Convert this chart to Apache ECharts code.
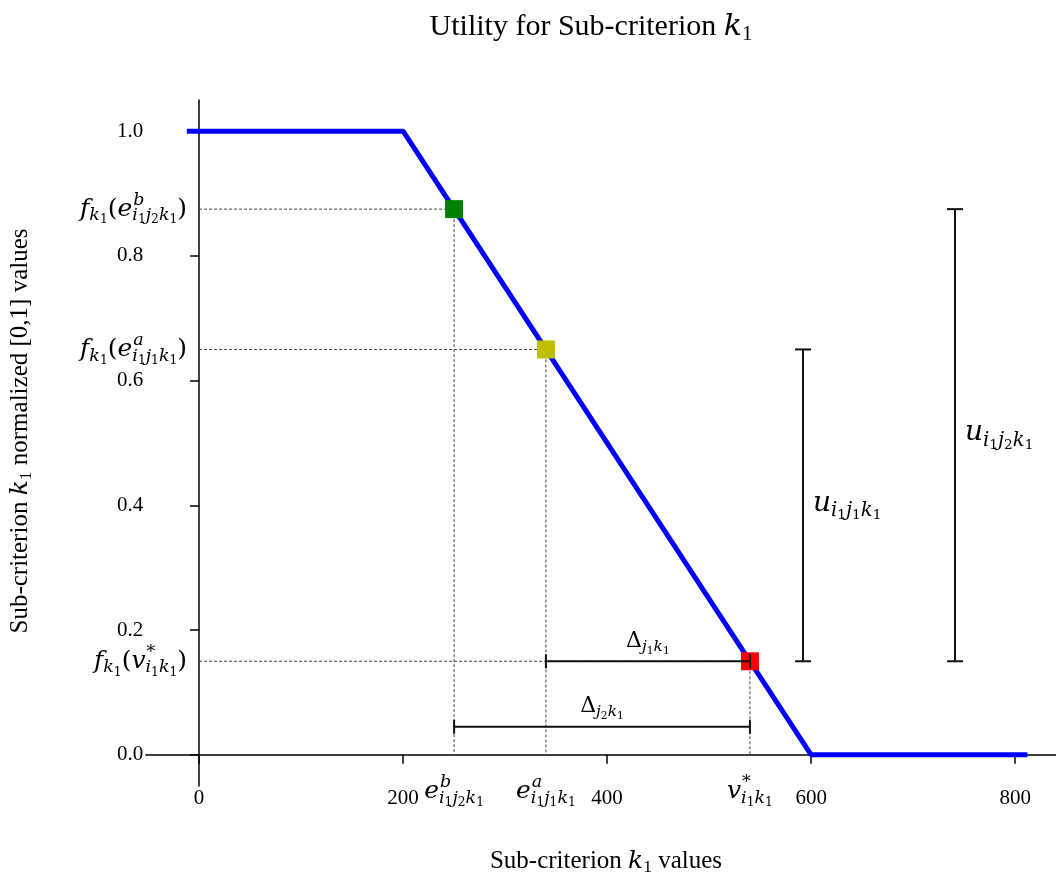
<!DOCTYPE html>
<html lang="en">
<head>
  <meta charset="utf-8">
  <title>Utility for Sub-criterion k1</title>
  <script src="https://cdn.jsdelivr.net/npm/echarts@6/dist/echarts.min.js"></script>
  <style>
    * { margin: 0; padding: 0; }
    html, body, #chart { width: 100%; height: 100%; overflow: hidden; background: #fff; }
  </style>
</head>
<body>
<div id="chart"></div>
<script>
// utility curve (piecewise linear)
const curveX = [-12, 200, 600, 812];
const curveY = [1.0, 1.0, 0.0, 0.0];
// marked alternatives: e^b, e^a, v*
const markX = [250, 340, 540];
const markY = [0.875, 0.65, 0.15];
const xTickValues = [0, 200, 400, 600, 800];
const yTickValues = [0, 0.2, 0.4, 0.6, 0.8, 1.0];
// delta brackets: [from x, to x, at y]
const deltaSpans = [[340, 540, 0.15], [250, 540, 0.045]];
// u brackets: [at x, from y, to y]
const uSpans = [[592, 0.15, 0.65], [741, 0.15, 0.875]];

// math text as atoms: [text, italic, superscript, subscript]
const one = [['1']], two = [['2']];
const k1 = [['k', true, null, one]];
const i1j1k1 = [['i', true, null, one], ['j', true, null, one], ['k', true, null, one]];
const i1j2k1 = [['i', true, null, one], ['j', true, null, two], ['k', true, null, one]];
const i1k1 = [['i', true, null, one], ['k', true, null, one]];

const yMathLabels = [
  [['f', true, null, k1], ['('], ['e', true, [['b', true]], i1j2k1], [')']],
  [['f', true, null, k1], ['('], ['e', true, [['a', true]], i1j1k1], [')']],
  [['f', true, null, k1], ['('], ['v', true, [['*']], i1k1], [')']]
];
const xMathLabels = [
  [['e', true, [['b', true]], i1j2k1]],
  [['e', true, [['a', true]], i1j1k1]],
  [['v', true, [['*']], i1k1]]
];
const deltaLabels = [
  [['Δ', false, null, [['j', true, null, one], ['k', true, null, one]]]],
  [['Δ', false, null, [['j', true, null, two], ['k', true, null, one]]]]
];
const uLabels = [
  [['u', true, null, i1j1k1]],
  [['u', true, null, i1j2k1]]
];
const titleText = [['Utility for Sub-criterion '], ['k', true, null, one]];
const xNameText = [['Sub-criterion '], ['k', true, null, one], [' values']];
const yNameText = [['Sub-criterion '], ['k', true, null, one], [' normalized [0,1] values']];

const markColors = ['#008000', '#bfbf00', '#ff0000'];
const SERIF = '"Liberation Serif", "DejaVu Serif", serif';
const MATH = '"DejaVu Serif", serif';
const ctx2d = document.createElement('canvas').getContext('2d');

// lay atoms out left to right, sup/sub stacked; y is the middle line of the text
// allMath: every atom in the math face, otherwise only the italic ones
function place(atoms, size, x, y, out, allMath) {
  atoms.forEach(function (a) {
    const fs = a[1] ? 'italic' : 'normal';
    const fam = (allMath || a[1]) ? MATH : SERIF;
    ctx2d.font = fs + ' ' + size + 'px ' + fam;
    const w = ctx2d.measureText(a[0]).width;
    out.push({
      type: 'text', x: x, y: y, silent: true,
      style: {
        text: a[0], fontSize: size, fontStyle: fs, fontFamily: fam, fill: '#000',
        align: 'left', verticalAlign: 'middle', textAlign: 'left', textVerticalAlign: 'middle'
      }
    });
    x += w;
    if (a[2] || a[3]) {
      let hi = x, lo = x;
      if (a[2]) hi = place(a[2], size * 0.7, x + (a[1] ? size * 0.04 : 0), y - size * 0.36, out, allMath);
      if (a[3]) lo = place(a[3], size * 0.7, x, y + size * 0.26, out, allMath);
      x = Math.max(hi, lo);
    }
  });
  return x;
}

function mathGroup(atoms, size, x, y, anchor, allMath) {
  const children = [];
  const w = place(atoms, size, 0, 0, children, allMath !== false);
  const dx = anchor === 'right' ? -w : anchor === 'center' ? -w / 2 : 0;
  return { type: 'group', x: x + dx, y: y, children: children };
}

function ink() { return { stroke: '#111', lineWidth: 2 }; }
function dash() { return { stroke: '#444', lineWidth: 1, lineDash: [3, 2] }; }

const yNameGroup = mathGroup(yNameText, 25, 0, 0, 'center', false);

const option = {
  animation: false,
  backgroundColor: '#fff',
  grid: { left: 146, right: 0, top: 100, bottom: 90, containLabel: false, outerBoundsMode: 'none' },
  xAxis: {
    type: 'value', min: -52, max: 840,
    axisLine: { onZero: true, lineStyle: { color: '#000', width: 1.5 } },
    axisTick: { customValues: xTickValues, length: 9, lineStyle: { color: '#000', width: 1.5 } },
    // labels sit at the grid edge, not at the zero line
    axisLabel: { customValues: xTickValues, margin: 2, fontFamily: SERIF, fontSize: 21, color: '#000' },
    splitLine: { show: false }
  },
  yAxis: {
    type: 'value', min: -0.05, max: 1.05,
    axisLine: { show: true, onZero: true, lineStyle: { color: '#000', width: 1.5 } },
    axisTick: { show: true, customValues: yTickValues, length: 9, lineStyle: { color: '#000', width: 1.5 } },
    axisLabel: {
      customValues: yTickValues, margin: 16, align: 'center',
      formatter: function (v) { return v.toFixed(1); },
      fontFamily: SERIF, fontSize: 21, color: '#000'
    },
    splitLine: { show: false }
  },
  graphic: [
    mathGroup(titleText, 30, 591, 27, 'center', false),
    mathGroup(xNameText, 25, 606, 861, 'center', false),
    { type: 'group', x: 20, y: 431, rotation: Math.PI / 2, children: [yNameGroup] }
  ],
  series: [
    {
      // dashed guides from the axes to each marked point
      type: 'custom', name: 'guides', z: 1, silent: true,
      data: markX.map(function (x, i) { return [x, markY[i]]; }),
      renderItem: function (params, api) {
        const x = api.value(0), y = api.value(1);
        const p = api.coord([x, y]), o = api.coord([0, y]), b = api.coord([x, 0]);
        return { type: 'group', children: [
          { type: 'line', shape: { x1: o[0], y1: o[1], x2: p[0], y2: p[1] }, style: dash() },
          { type: 'line', shape: { x1: p[0], y1: p[1], x2: b[0], y2: b[1] }, style: dash() }
        ] };
      }
    },
    {
      type: 'line', name: 'utility', z: 2, silent: true,
      data: curveX.map(function (x, i) { return [x, curveY[i]]; }),
      showSymbol: false,
      lineStyle: { color: '#0000ff', width: 5 }
    },
    {
      type: 'scatter', name: 'points', z: 3, silent: true,
      symbol: 'rect', symbolSize: 18,
      data: markX.map(function (x, i) { return [x, markY[i]]; }),
      itemStyle: { color: function (p) { return markColors[p.dataIndex]; }, opacity: 1 }
    },
    {
      // horizontal delta brackets
      type: 'custom', name: 'delta', z: 4, silent: true,
      data: deltaSpans,
      renderItem: function (params, api) {
        const a = api.coord([api.value(0), api.value(2)]);
        const b = api.coord([api.value(1), api.value(2)]);
        return { type: 'group', children: [
          { type: 'line', shape: { x1: a[0], y1: a[1], x2: b[0], y2: b[1] }, style: ink() },
          { type: 'line', shape: { x1: a[0], y1: a[1] - 7, x2: a[0], y2: a[1] + 7 }, style: ink() },
          { type: 'line', shape: { x1: b[0], y1: b[1] - 7, x2: b[0], y2: b[1] + 7 }, style: ink() },
          mathGroup(deltaLabels[params.dataIndex], 22, (a[0] + b[0]) / 2, a[1] - 20, 'center')
        ] };
      }
    },
    {
      // vertical u brackets
      type: 'custom', name: 'u', z: 4, silent: true,
      data: uSpans,
      renderItem: function (params, api) {
        const a = api.coord([api.value(0), api.value(1)]);
        const b = api.coord([api.value(0), api.value(2)]);
        return { type: 'group', children: [
          { type: 'line', shape: { x1: a[0], y1: a[1], x2: b[0], y2: b[1] }, style: ink() },
          { type: 'line', shape: { x1: a[0] - 8, y1: a[1], x2: a[0] + 8, y2: a[1] }, style: ink() },
          { type: 'line', shape: { x1: b[0] - 8, y1: b[1], x2: b[0] + 8, y2: b[1] }, style: ink() },
          mathGroup(uLabels[params.dataIndex], 28, a[0] + 10, (a[1] + b[1]) / 2 - 2, 'left')
        ] };
      }
    },
    {
      // math tick labels on the y axis
      type: 'custom', name: 'yMath', z: 5, silent: true,
      data: markY.map(function (y) { return [0, y]; }),
      renderItem: function (params, api) {
        const p = api.coord([api.value(0), api.value(1)]);
        return mathGroup(yMathLabels[params.dataIndex], 25, p[0] - 12, p[1], 'right');
      }
    },
    {
      // math tick labels on the x axis
      type: 'custom', name: 'xMath', z: 5, silent: true,
      data: markX.map(function (x) { return [x, 0]; }),
      renderItem: function (params, api) {
        const p = api.coord([api.value(0), api.value(1)]);
        return mathGroup(xMathLabels[params.dataIndex], 25, p[0], p[1] + 37, 'center');
      }
    }
  ]
};

const chart = echarts.init(document.getElementById('chart'));
chart.setOption(option);
</script>
</body>
</html>
